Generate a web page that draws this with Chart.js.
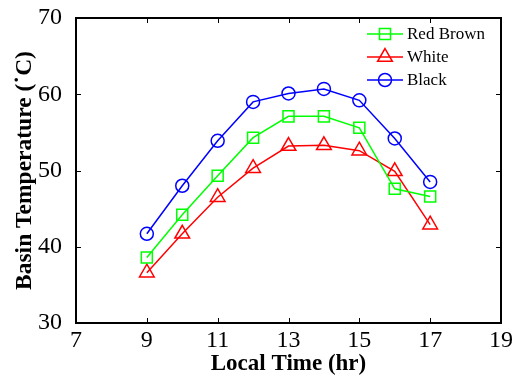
<!DOCTYPE html>
<html>
<head>
<meta charset="utf-8">
<script src="https://cdn.jsdelivr.net/npm/chart.js@4.4.0/dist/chart.umd.min.js"></script>
<style>
html,body{margin:0;padding:0;background:#fff;}
#wrap{width:516px;height:378px;}
</style>
</head>
<body>
<div id="wrap"><canvas id="c" width="516" height="378"></canvas></div>
<script>
const hours = [9, 10, 11, 12, 13, 14, 15, 16, 17];
const redBrown = [38.6, 44.2, 49.3, 54.3, 57.1, 57.1, 55.6, 47.6, 46.6];
const white = [36.6, 41.7, 46.5, 50.3, 53.2, 53.3, 52.6, 49.9, 42.9];
const black = [41.7, 48.0, 53.9, 59.0, 60.1, 60.7, 59.2, 54.2, 48.5];
const seriesNames = ['Red Brown', 'White', 'Black'];
const xTicks = [7, 9, 11, 13, 15, 17, 19];
const yTicks = [30, 40, 50, 60, 70];

const serif = "'Liberation Serif', 'Times New Roman', serif";
const toPts = arr => arr.map((v, i) => ({x: hours[i], y: v}));

const styles = [
  {color: '#00ff00', pointStyle: 'rect', radius: 7.8},
  {color: '#ff0000', pointStyle: 'triangle', radius: 8.5},
  {color: '#0000ff', pointStyle: 'circle', radius: 6.5}
];
const values = [redBrown, white, black];

const datasets = values.map((v, i) => ({
  label: seriesNames[i],
  data: toPts(v),
  borderColor: styles[i].color,
  backgroundColor: 'rgba(0,0,0,0)',
  borderWidth: 1.5,
  pointStyle: styles[i].pointStyle,
  pointRadius: styles[i].radius,
  pointBorderWidth: 1.5,
  pointBorderColor: styles[i].color,
  pointBackgroundColor: 'rgba(0,0,0,0)',
  tension: 0,
  fill: false
}));

const boxPlugin = {
  id: 'boxTicks',
  afterDatasetsDraw(chart) {
    const {ctx, chartArea: a, scales} = chart;
    ctx.save();
    ctx.strokeStyle = '#000';
    ctx.lineWidth = 1;
    const tl = 5;
    xTicks.forEach(t => {
      const px = Math.round(scales.x.getPixelForValue(t)) + 0.5;
      ctx.beginPath();
      ctx.moveTo(px, a.bottom); ctx.lineTo(px, a.bottom - tl);
      ctx.moveTo(px, a.top); ctx.lineTo(px, a.top + tl);
      ctx.stroke();
    });
    yTicks.forEach(t => {
      const py = Math.round(scales.y.getPixelForValue(t)) + 0.5;
      ctx.beginPath();
      ctx.moveTo(a.left, py); ctx.lineTo(a.left + tl, py);
      ctx.moveTo(a.right, py); ctx.lineTo(a.right - tl, py);
      ctx.stroke();
    });
    ctx.lineWidth = 2;
    ctx.strokeRect(a.left, a.top, a.right - a.left, a.bottom - a.top);

    // legend
    const lx0 = 367, lx1 = 403, mx = 385, tx = 407;
    const rows = [34, 57, 80];
    ctx.textBaseline = 'middle';
    ctx.textAlign = 'left';
    datasets.forEach((ds, i) => {
      const y = rows[i];
      ctx.strokeStyle = ds.borderColor;
      ctx.lineWidth = 1.5;
      ctx.beginPath();
      ctx.moveTo(lx0, y); ctx.lineTo(lx1, y);
      ctx.stroke();
      ctx.fillStyle = 'rgba(0,0,0,0)';
      Chart.helpers.drawPoint(ctx, {
        pointStyle: ds.pointStyle, radius: ds.pointRadius, rotation: 0,
        borderWidth: 1.5
      }, mx, y);
      ctx.font = '17px ' + serif;
      ctx.fillStyle = '#000';
      ctx.fillText(ds.label, tx, y + 1);
    });
    ctx.restore();
  }
};

new Chart(document.getElementById('c'), {
  type: 'line',
  data: {datasets},
  options: {
    responsive: false,
    animation: false,
    events: [],
    layout: {padding: {left: 0, right: 15, top: 16, bottom: 0}},
    plugins: {legend: {display: false}, tooltip: {enabled: false}},
    scales: {
      x: {
        type: 'linear', min: 7, max: 19,
        afterBuildTicks: s => { s.ticks = xTicks.map(v => ({value: v})); },
        afterFit: s => { s.height = 55; },
        grid: {display: false},
        border: {display: false},
        ticks: {color: '#000', font: {family: serif, size: 24, lineHeight: 1}, padding: -2, maxRotation: 0},
        title: {display: true, text: 'Local Time (hr)', color: '#000',
          font: {family: serif, size: 23, weight: 'bold'}, padding: {top: 0, bottom: 0}}
      },
      y: {
        type: 'linear', min: 30, max: 70,
        afterBuildTicks: s => { s.ticks = yTicks.map(v => ({value: v})); },
        afterFit: s => { s.width = 76; },
        grid: {display: false},
        border: {display: false},
        ticks: {color: '#000', font: {family: serif, size: 24, lineHeight: 1}, padding: 6},
        title: {display: true, text: 'Basin Temperature (˙C)', color: '#000',
          font: {family: serif, size: 23.5, weight: 'bold'}, padding: {top: 11, bottom: 0}}
      }
    }
  },
  plugins: [boxPlugin]
});
</script>
</body>
</html>
